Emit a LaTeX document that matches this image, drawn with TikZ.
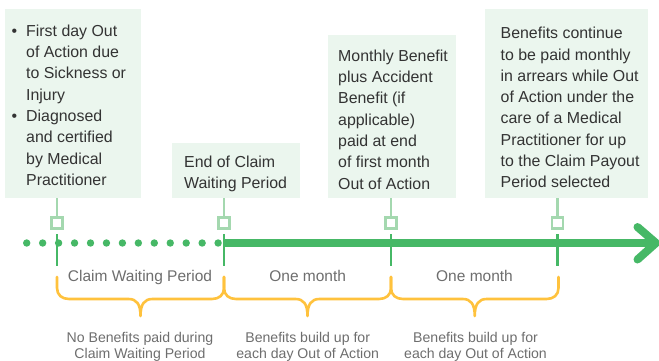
\documentclass[tikz,border=0pt]{standalone}
\usepackage{fontspec}
\setmainfont{Liberation Sans}
\definecolor{tgreen}{HTML}{46B866}
\definecolor{lgreen}{HTML}{A4D8AF}
\definecolor{boxfill}{HTML}{EBF6EE}
\definecolor{byellow}{HTML}{FFC23D}
\definecolor{lblgray}{HTML}{6E6E6E}
\definecolor{txtdark}{HTML}{333333}
\begin{document}
\begin{tikzpicture}[x=1pt,y=-1pt,
  infobox/.style={fill=boxfill,draw=none,anchor=north west,inner sep=0pt},
  boxtxt/.style={anchor=north west,inner sep=0pt,align=left,text=txtdark,font=\fontsize{15.9}{21.3}\selectfont},
  lbl/.style={anchor=base,inner sep=0pt,text=lblgray,font=\fontsize{15.5}{18}\selectfont},
  note/.style={anchor=north,inner sep=0pt,align=center,text=lblgray,font=\fontsize{14.1}{15.6}\selectfont},
  sqmark/.style={draw=lgreen,line width=2.4pt,fill=white,minimum size=11pt,inner sep=0pt},
  upline/.style={draw=lgreen,line width=2.4pt},
  tickline/.style={draw=tgreen,line width=2.4pt},
  brace/.style={draw=byellow,line width=2.6pt,line cap=round,line join=round},
  dotmark/.style={fill=tgreen,draw=none}
]
\useasboundingbox (0,0) rectangle (659,360);
\fill[white] (0,0) rectangle (659,360);

% boxes
\node[infobox,minimum width=136pt,minimum height=189pt] (b1) at (5,9) {};
\node[infobox,minimum width=128pt,minimum height=55pt] (b2) at (172,143) {};
\node[infobox,minimum width=128pt,minimum height=163pt] (b3) at (328,35) {};
\node[infobox,minimum width=163pt,minimum height=189pt] (b4) at (485,9) {};

% box texts
\node[boxtxt] (t1) at (11.5,24.5) {\makebox[14.5pt][l]{•}First day Out\\
\hspace*{14.5pt}of Action due\\
\hspace*{14.5pt}to Sickness or\\
\hspace*{14.5pt}Injury\\
\makebox[14.5pt][l]{•}Diagnosed\\
\hspace*{14.5pt}and certified\\
\hspace*{14.5pt}by Medical\\
\hspace*{14.5pt}Practitioner};
\node[boxtxt] (t2) at (184,155.5) {End of Claim\\Waiting Period};
\node[boxtxt] (t3) at (338,49.5) {Monthly Benefit\\plus Accident\\Benefit (if\\applicable)\\paid at end\\of first month\\Out of Action};
\node[boxtxt] (t4) at (500.5,27) {Benefits continue\\to be paid monthly\\in arrears while Out\\of Action under the\\care of a Medical\\Practitioner for up\\to the Claim Payout\\Period selected};

% timeline
\foreach \k in {0,...,12} {
  \fill[dotmark] (26.7+15.95*\k,243) circle (3.7pt);
}
\coordinate (ls) at (224,243);
\coordinate (le) at (653,243);
\draw[tgreen,line width=7.5pt] (ls) -- (le);
\coordinate (at) at (656,243);
\draw[tgreen,line width=8pt,line cap=round,line join=round] (637.5,227) -- (at) -- (637.5,259.5);

% markers
\foreach \i/\x in {1/57,2/224,3/391,4/557.5} {
  \node[sqmark] (sq\i) at (\x,223) {};
  \coordinate (tk\i) at (\x,266);
  \coordinate (tt\i) at (\x,234);
}
\foreach \i in {1,2,3,4} {
  \draw[upline] (b\i.south -| sq\i) -- (sq\i.north);
  \draw[tickline] (tt\i) -- (tk\i);
}

% labels
\node[lbl] (l1) at (140,281) {Claim Waiting Period};
\node[lbl] (l2) at (307.7,281) {One month};
\node[lbl] (l3) at (474.5,281) {One month};

% braces
\foreach \xa/\xb in {57/224,224/391,391/558.5} {
  \pgfmathsetmacro{\xm}{(\xa+\xb)/2}
  \draw[brace] (\xa,277) -- (\xa,288) .. controls (\xa,295) and (\xa+5,299) .. (\xa+12,299)
    -- (\xm-12,299) .. controls (\xm-4,299) and (\xm,304) .. (\xm,316)
    .. controls (\xm,304) and (\xm+4,299) .. (\xm+12,299)
    -- (\xb-12,299) .. controls (\xb-5,299) and (\xb,295) .. (\xb,288) -- (\xb,277);
}

% notes
\node[note] (n1) at (140,332.3) {No Benefits paid during\\Claim Waiting Period};
\node[note] (n2) at (307.7,332.3) {Benefits build up for\\each day Out of Action};
\node[note] (n3) at (475.5,332.3) {Benefits build up for\\each day Out of Action};
\end{tikzpicture}
\end{document}
